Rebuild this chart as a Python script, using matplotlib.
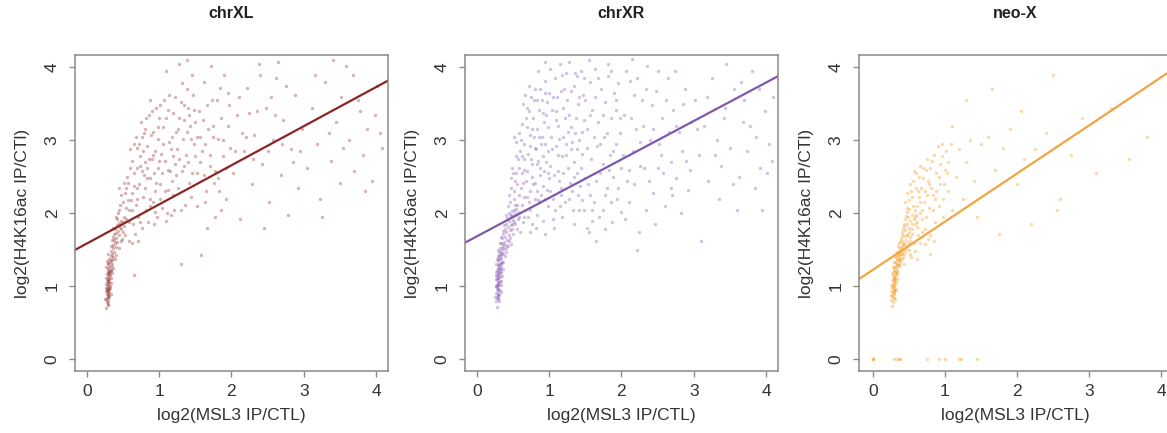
import numpy as np
import matplotlib
matplotlib.use("Agg")
import matplotlib.pyplot as plt

plt.rcParams['font.family'] = ['Liberation Sans', 'DejaVu Sans']

titles = ["chrXL", "chrXR", "neo-X"]
xlabel = "log2(MSL3 IP/CTL)"
ylabel = "log2(H4K16ac IP/CTl)"
ticks = [0, 1, 2, 3, 4]

# regression lines (intercept, slope)
xl_fit = (1.586, 0.536)
xr_fit = (1.684, 0.527)
neo_fit = (1.225, 0.660)

# chrXL points: dense stripe at low MSL3 + the broad cloud
xl_core = [(0.27,0.70),(0.29,0.74),(0.28,0.78),(0.30,0.80),(0.27,0.83),(0.29,0.85),(0.31,0.87),(0.28,0.89),
           (0.30,0.91),(0.27,0.93),(0.29,0.95),(0.31,0.96),(0.28,0.98),(0.30,1.00),(0.32,1.01),(0.27,1.03),
           (0.29,1.05),(0.31,1.06),(0.28,1.08),(0.30,1.10),(0.33,1.11),(0.29,1.13),(0.31,1.15),(0.28,1.17),
           (0.32,1.19),(0.30,1.21),(0.34,1.22),(0.29,1.24),(0.31,1.26),(0.33,1.28),(0.30,1.30),(0.35,1.31),
           (0.32,1.33),(0.34,1.36),(0.31,1.38),(0.36,1.40),(0.33,1.42),(0.35,1.45),(0.38,1.47),(0.34,1.49),
           (0.37,1.52),(0.40,1.54),(0.36,1.56),(0.39,1.59),(0.42,1.61),(0.38,1.63),(0.41,1.66),(0.37,1.68),
           (0.44,1.70),(0.40,1.73),(0.43,1.76),(0.39,1.79),(0.46,1.81),(0.42,1.84),(0.45,1.87),(0.48,1.90),
           (0.29,0.88),(0.30,0.96),(0.29,1.02),(0.31,0.92),(0.30,1.07),(0.28,0.94),(0.30,0.84),(0.32,1.16),
           (0.29,1.18),(0.31,1.20),(0.25,0.82),(0.33,0.90),(0.26,0.98),(0.34,1.04),(0.26,1.12),(0.35,1.18),
           (0.27,1.27),(0.37,1.25),(0.28,1.35),(0.39,1.38),(0.30,1.44),(0.41,1.43),(0.33,1.55),(0.44,1.52),
           (0.35,1.63),(0.47,1.62),(0.38,1.72),(0.50,1.74),(0.36,1.80),(0.52,1.83),(0.40,1.95),(0.55,1.92),
           (0.43,2.00),(0.58,1.88),(0.31,1.10),(0.32,0.98),(0.30,0.76),(0.33,1.22),(0.35,1.36),(0.29,1.32)]
xl_cloud = [(0.42,1.92),(0.45,2.05),(0.48,1.78),(0.50,2.15),(0.52,1.95),(0.47,2.25),(0.55,2.35),(0.53,1.70),
            (0.58,2.05),(0.56,2.50),(0.44,2.35),(0.59,1.62),(0.51,2.42),(0.57,2.18),(0.60,2.62),(0.49,1.65),
            (0.54,2.08),(0.62,2.28),(0.64,1.85),(0.66,2.55),(0.63,2.72),(0.68,2.12),(0.70,2.90),(0.67,1.72),
            (0.72,2.40),(0.74,2.65),(0.71,1.95),(0.76,3.05),(0.78,2.22),(0.65,2.95),(0.73,2.78),(0.79,2.52),
            (0.69,2.35),(0.77,1.80),(0.80,2.70),(0.75,3.25),(0.62,1.60),(0.82,2.05),(0.84,2.92),(0.86,3.35),
            (0.88,2.48),(0.90,2.75),(0.92,3.12),(0.85,1.88),(0.94,2.30),(0.96,3.45),(0.98,2.62),(0.83,2.62),
            (0.91,2.15),(0.97,1.95),(0.89,3.08),(0.99,3.02),(0.87,2.20),(0.93,2.55),(0.95,2.85),(1.00,3.30),
            (0.81,3.15),(1.02,2.40),(1.05,3.18),(1.08,2.72),(1.10,1.90),(1.12,3.42),(1.15,2.58),(1.18,3.05),
            (1.20,2.25),(1.22,3.60),(1.25,2.88),(1.28,3.30),(1.30,2.05),(1.32,3.78),(1.35,2.65),(1.38,3.12),
            (1.40,3.45),(1.42,2.42),(1.45,3.90),(1.48,2.95),(1.50,3.25),(1.04,2.08),(1.14,2.98),(1.24,2.52),
            (1.34,3.48),(1.44,2.22),(1.07,3.55),(1.17,1.98),(1.27,4.05),(1.37,2.80),(1.47,3.62),(1.03,2.82),
            (1.13,2.32),(1.33,3.02),(1.43,3.20),(1.26,3.15),(1.19,2.78),(1.09,3.95),(1.39,4.10),(1.30,1.30),
            (1.52,2.55),(1.55,3.40),(1.58,1.43),(1.60,2.85),(1.62,3.80),(1.65,2.30),(1.68,3.15),(1.70,2.65),
            (1.72,4.02),(1.75,3.05),(1.78,1.95),(1.80,3.55),(1.82,2.48),(1.85,3.30),(1.88,2.78),(1.90,3.90),
            (1.92,2.20),(1.95,3.65),(1.98,2.90),(1.56,3.05),(1.66,1.80),(1.76,2.42),(1.86,2.05),(1.96,3.20),
            (1.63,2.15),(1.73,3.55),(2.02,2.55),(2.08,3.35),(2.12,1.92),(2.18,2.85),(2.22,3.72),(2.28,2.40),
            (2.32,3.08),(2.38,4.05),(2.42,2.68),(2.48,3.45),(2.52,2.15),(2.58,3.00),(2.62,3.85),(2.68,2.52),
            (2.72,3.28),(2.78,1.98),(2.82,2.88),(2.88,3.62),(2.92,2.35),(2.98,3.15),(2.25,3.38),(2.45,1.80),
            (2.65,4.08),(2.85,2.70),(2.15,3.10),(2.55,3.60),(3.05,2.62),(3.12,3.45),(3.18,2.95),(3.25,1.95),
            (3.30,3.80),(3.38,2.72),(3.45,3.25),(3.50,2.42),(3.58,4.02),(3.62,3.00),(3.70,2.58),(3.75,3.55),
            (3.82,2.80),(3.88,3.15),(3.95,2.45),(4.02,3.75),(4.08,2.90),(3.22,2.20),(3.52,3.60),(3.85,2.30),
            (3.40,4.10),(3.68,3.90),(3.98,3.35),(0.65,1.15),
            (0.46,2.12),(0.50,1.88),(0.53,2.28),(0.57,2.42),(0.61,2.18),(0.63,2.05),(0.66,2.38),(0.69,2.62),
            (0.70,2.20),(0.72,2.95),(0.74,1.88),(0.76,2.58),(0.78,2.85),(0.80,2.35),(0.82,3.30),(0.84,2.48),
            (0.86,2.75),(0.88,2.10),(0.90,3.40),(0.92,2.80),(0.94,2.02),(0.96,2.42),(0.98,3.18),(1.00,2.72),
            (1.02,3.48),(1.04,2.55),(1.06,2.95),(1.08,2.30),(1.10,3.30),(1.12,2.60),(1.14,3.62),(1.16,2.88),
            (1.18,2.45),(1.20,3.38),(1.22,2.68),(1.24,3.12),(1.26,2.35),(1.28,2.75),(1.30,3.52),(1.32,2.58),
            (1.34,3.28),(1.36,2.12),(1.38,3.70),(1.40,2.70),(1.42,3.35),(1.44,3.02),(1.46,2.55),(1.48,3.42),
            (1.50,2.78),(1.53,3.05),(1.57,2.70),(1.61,3.28),(1.64,2.95),(1.67,3.48),(1.71,2.80),(1.74,3.20),
            (1.77,2.58),(1.81,3.02),(1.84,3.72),(1.89,3.00),(1.93,2.62),(1.97,3.48),(2.05,2.85),(2.10,3.60),
            (2.20,3.05),(2.30,2.75),(2.35,3.40),(2.40,3.90),(2.50,2.85),(2.60,3.35),(2.70,2.95),(2.75,3.75),
            (2.95,2.85),(3.15,3.90),(3.35,3.10),(3.55,2.90),(3.78,3.40),(4.05,3.10),(0.60,2.88),(0.68,3.05),
            (0.71,1.62),(0.79,3.10),(0.87,3.55),(0.93,1.85),(1.01,2.20),(1.11,2.00),(1.21,2.05),(1.52,2.10),
            (1.62,2.52),(1.83,2.30)]

# chrXR points
xr_core = [(0.28,0.72),(0.27,0.80),(0.30,0.82),(0.28,0.86),(0.31,0.88),(0.27,0.91),(0.29,0.93),(0.32,0.95),
           (0.28,0.97),(0.30,0.99),(0.27,1.01),(0.31,1.03),(0.29,1.05),(0.33,1.07),(0.28,1.09),(0.30,1.11),
           (0.32,1.13),(0.27,1.15),(0.29,1.17),(0.31,1.19),(0.34,1.21),(0.28,1.23),(0.30,1.25),(0.33,1.27),
           (0.29,1.29),(0.31,1.31),(0.35,1.33),(0.30,1.35),(0.32,1.37),(0.34,1.39),(0.29,1.41),(0.33,1.43),
           (0.36,1.45),(0.31,1.47),(0.34,1.49),(0.38,1.51),(0.32,1.53),(0.36,1.55),(0.40,1.57),(0.34,1.59),
           (0.38,1.61),(0.42,1.63),(0.35,1.66),(0.39,1.68),(0.44,1.70),(0.37,1.72),(0.41,1.75),(0.46,1.77),
           (0.39,1.79),(0.43,1.82),(0.48,1.84),(0.40,1.86),(0.45,1.89),(0.50,1.91),(0.42,1.93),(0.47,1.96),
           (0.52,1.98),(0.44,2.00),(0.49,2.03),(0.54,2.06),(0.29,0.84),(0.30,0.90),(0.29,0.96),(0.28,1.02),
           (0.30,1.06),(0.29,1.12),(0.31,1.16),(0.30,1.20),(0.32,1.24),(0.31,1.28),(0.33,1.32),(0.30,1.38),
           (0.32,1.44),(0.35,1.52),(0.37,1.58),(0.41,1.52),(0.44,1.62),(0.47,1.58),(0.50,1.72),(0.53,1.85),
           (0.56,1.78),(0.25,0.85),(0.33,0.92),(0.26,1.00),(0.34,1.02),(0.26,1.10),(0.35,1.14),(0.27,1.20),
           (0.36,1.24),(0.27,1.30),(0.37,1.33),(0.28,1.38),(0.39,1.42),(0.30,1.50),(0.41,1.47),(0.32,1.60),
           (0.43,1.55),(0.34,1.68),(0.46,1.66),(0.36,1.76),(0.49,1.78),(0.38,1.84),(0.52,1.88),(0.41,1.98),
           (0.55,2.00),(0.43,2.10),(0.58,1.95),(0.31,0.80),(0.32,1.08),(0.33,1.18),(0.34,1.30),(0.31,1.42),
           (0.29,0.88),(0.30,1.02),(0.31,1.24),(0.28,1.14),(0.35,1.46)]
xr_cloud = [(0.46,2.15),(0.48,2.35),(0.50,2.55),(0.52,2.20),(0.54,2.78),(0.56,2.40),(0.58,2.62),(0.47,2.48),
            (0.51,2.05),(0.55,2.98),(0.59,2.25),(0.53,2.45),(0.57,1.92),(0.60,2.85),(0.49,1.85),(0.58,3.10),
            (0.52,3.05),(0.56,2.12),(0.61,2.35),(0.63,3.22),(0.65,2.60),(0.67,2.05),(0.69,3.45),(0.71,2.82),
            (0.73,2.30),(0.75,3.60),(0.77,2.68),(0.79,3.05),(0.62,2.78),(0.64,1.88),(0.66,2.95),(0.68,2.45),
            (0.70,3.18),(0.72,2.15),(0.74,2.92),(0.76,2.50),(0.78,3.30),(0.80,2.20),(0.63,2.55),(0.67,3.62),
            (0.71,1.95),(0.75,2.75),(0.79,3.55),(0.65,2.22),(0.73,3.08),(0.77,1.85),(0.81,2.42),(0.83,3.15),
            (0.85,2.72),(0.87,3.70),(0.89,2.25),(0.91,3.38),(0.93,2.58),(0.95,2.95),(0.97,3.52),(0.99,2.10),
            (0.82,2.88),(0.84,1.98),(0.86,3.42),(0.88,2.62),(0.90,3.05),(0.92,2.38),(0.94,3.82),(0.96,2.70),
            (0.98,3.18),(1.00,2.48),(0.85,2.18),(0.89,2.95),(0.93,3.25),(0.97,2.32),(0.91,1.90),(0.87,2.52),
            (0.95,3.65),(0.99,2.85),(0.83,3.55),(1.02,2.65),(1.04,3.42),(1.06,2.20),(1.08,3.85),(1.10,2.92),
            (1.12,3.20),(1.14,2.45),(1.16,3.68),(1.18,2.78),(1.20,3.05),(1.22,2.15),(1.24,3.92),(1.26,2.62),
            (1.28,3.35),(1.30,2.88),(1.32,2.30),(1.34,3.75),(1.36,3.10),(1.38,2.55),(1.40,3.50),(1.42,2.05),
            (1.44,3.95),(1.46,2.82),(1.48,3.28),(1.50,2.48),(1.03,3.05),(1.07,2.52),(1.11,3.60),(1.15,2.10),
            (1.19,3.45),(1.23,2.95),(1.27,4.08),(1.31,3.18),(1.35,2.70),(1.39,3.88),(1.43,2.38),(1.47,3.62),
            (1.05,1.92),(1.13,2.80),(1.21,3.70),(1.29,2.42),(1.37,3.30),(1.45,2.18),(1.09,3.28),(1.17,2.35),
            (1.25,3.55),(1.33,2.05),(1.41,3.00),(1.49,3.85),(1.52,1.80),(1.01,3.98),(1.52,3.15),(1.54,2.40),
            (1.56,3.80),(1.58,2.75),(1.60,3.42),(1.62,2.15),(1.64,3.98),(1.66,2.92),(1.68,3.25),(1.70,2.55),
            (1.72,3.70),(1.74,2.05),(1.76,3.05),(1.78,3.52),(1.80,2.35),(1.82,3.88),(1.84,2.80),(1.86,3.30),
            (1.88,2.50),(1.90,3.65),(1.92,2.95),(1.94,2.20),(1.96,3.78),(1.98,3.10),(2.00,2.62),(1.57,2.25),
            (1.63,3.60),(1.69,1.95),(1.75,2.68),(1.81,4.05),(1.87,1.88),(1.93,3.42),(1.99,2.02),(1.55,1.75),
            (1.65,1.62),(1.85,2.15),(2.04,3.35),(2.08,2.45),(2.12,3.82),(2.16,2.85),(2.20,3.15),(2.24,1.75),
            (2.28,3.55),(2.32,2.62),(2.36,4.02),(2.40,3.00),(2.44,2.28),(2.48,3.68),(2.52,2.95),(2.56,3.30),
            (2.60,2.10),(2.64,3.85),(2.68,2.70),(2.72,3.42),(2.76,2.48),(2.80,3.12),(2.84,2.85),(2.88,3.70),
            (2.92,2.32),(2.96,3.25),(2.10,2.15),(2.26,2.98),(2.42,3.48),(2.58,2.55),(2.74,3.95),(2.90,2.72),
            (2.18,3.62),(2.34,2.05),(2.50,2.62),(2.66,3.12),(2.82,2.00),(2.22,1.50),(2.46,1.85),(2.70,2.25),
            (3.02,3.55),(3.08,2.80),(3.14,3.20),(3.20,2.45),(3.26,3.85),(3.32,3.00),(3.38,2.65),(3.44,3.45),
            (3.50,2.90),(3.56,3.70),(3.62,2.50),(3.68,3.25),(3.74,2.85),(3.80,3.95),(3.86,3.05),(3.92,2.62),
            (3.98,3.40),(4.04,2.95),(4.10,3.60),(3.10,1.62),(3.35,2.20),(3.60,2.05),(3.85,2.35),(3.95,2.05),
            (4.08,2.72),(3.45,4.05),(3.70,3.55),
            (0.45,2.25),(0.47,1.98),(0.49,2.62),(0.51,2.30),(0.53,2.12),(0.55,2.55),(0.57,2.75),(0.59,2.02),
            (0.61,3.00),(0.62,2.12),(0.64,2.42),(0.66,2.75),(0.68,3.30),(0.69,2.22),(0.70,2.58),(0.72,3.40),
            (0.74,2.05),(0.76,3.15),(0.78,2.40),(0.80,2.90),(0.81,3.70),(0.83,2.30),(0.84,2.68),(0.86,3.05),
            (0.88,2.15),(0.90,3.55),(0.92,2.78),(0.94,2.20),(0.96,3.35),(0.98,2.55),(1.00,3.65),(1.02,2.30),
            (1.04,2.88),(1.06,3.60),(1.08,2.05),(1.10,3.40),(1.12,2.58),(1.14,3.02),(1.16,2.25),(1.18,3.90),
            (1.20,2.55),(1.22,3.30),(1.24,2.80),(1.26,3.12),(1.28,2.20),(1.30,3.68),(1.32,2.98),(1.34,2.50),
            (1.36,3.92),(1.38,2.88),(1.40,2.25),(1.42,3.60),(1.44,2.62),(1.46,3.12),(1.48,2.05),(1.50,3.55),
            (1.53,2.90),(1.56,3.35),(1.59,2.05),(1.62,3.05),(1.65,2.45),(1.68,3.85),(1.71,2.95),(1.74,3.35),
            (1.77,2.25),(1.80,3.10),(1.83,2.60),(1.86,3.95),(1.89,2.85),(1.92,3.55),(1.95,2.35),(1.98,3.30),
            (2.02,2.80),(2.06,3.95),(2.10,2.60),(2.14,3.30),(2.18,2.40),(2.22,3.85),(2.26,2.65),(2.30,3.20),
            (2.34,3.70),(2.38,2.45),(2.44,3.15),(2.50,3.95),(2.55,2.80),(2.62,3.55),(2.68,2.35),(2.75,3.20),
            (2.85,3.50),(2.95,2.60),(3.05,3.15),(3.18,3.60),(3.30,2.80),(3.42,3.30),(3.55,2.40),(3.65,3.80),
            (3.78,3.20),(3.90,3.70),(4.02,2.55),(0.60,1.75),(0.66,1.95),(0.74,1.75),(0.82,1.80),(0.95,1.72),
            (1.07,1.80),(1.18,1.95),(1.35,1.85),(1.60,1.90),(1.78,1.78),(2.05,1.92),(0.64,3.50),(0.72,3.75),
            (0.85,3.95),(0.95,4.08),(1.15,4.05),(1.55,4.10),(2.15,4.12)]

# neo-X points
neo_core = [(0.27,0.73),(0.28,0.78),(0.26,0.81),(0.29,0.84),(0.27,0.87),(0.30,0.89),(0.28,0.91),(0.26,0.93),
            (0.29,0.95),(0.31,0.97),(0.27,0.99),(0.30,1.01),(0.28,1.03),(0.32,1.05),(0.29,1.07),(0.27,1.09),
            (0.31,1.11),(0.30,1.13),(0.28,1.15),(0.33,1.17),(0.31,1.19),(0.29,1.21),(0.34,1.23),(0.32,1.25),
            (0.30,1.27),(0.35,1.29),(0.33,1.31),(0.31,1.33),(0.36,1.35),(0.34,1.37),(0.38,1.39),(0.32,1.41),
            (0.36,1.43),(0.40,1.45),(0.34,1.47),(0.38,1.49),(0.42,1.51),(0.36,1.53),(0.40,1.55),(0.44,1.57),
            (0.37,1.59),(0.41,1.62),(0.46,1.64),(0.39,1.66),(0.43,1.69),(0.48,1.71),(0.41,1.74),(0.45,1.77),
            (0.50,1.80),(0.43,1.83),(0.47,1.86),(0.52,1.89),(0.45,1.92),(0.49,1.95),(0.54,1.98),(0.47,2.02),
            (0.51,2.06),(0.56,2.10),(0.28,0.86),(0.29,0.92),(0.28,0.98),(0.30,1.04),(0.29,1.10),(0.31,1.16),
            (0.30,1.22),(0.32,1.28),(0.33,1.36),(0.35,1.42),(0.37,1.46),(0.39,1.52),(0.42,1.58),(0.38,1.35),
            (0.42,1.40),(0.45,1.48),(0.48,1.55),(0.52,1.62),(0.55,1.72),(0.50,1.50),(0.44,1.30),(0.58,1.85),
            (0.53,1.40),(0.29,1.00),(0.30,0.94),(0.31,1.08),
            (0.25,0.88),(0.32,0.95),(0.26,1.02),(0.33,1.10),(0.27,1.18),(0.34,1.20),(0.28,1.26),(0.36,1.28),
            (0.29,1.34),(0.38,1.31),(0.31,1.40),(0.40,1.38),(0.33,1.46),(0.43,1.44),(0.35,1.55),(0.46,1.52),
            (0.38,1.62),(0.49,1.60),(0.40,1.70),(0.52,1.68),(0.42,1.78),(0.55,1.78),(0.44,1.86),(0.57,1.92),
            (0.46,1.96),(0.60,1.98),(0.48,2.08),(0.62,2.10),(0.50,2.18),(0.64,2.22),(0.31,0.82),(0.30,1.12),
            (0.32,1.18),(0.34,1.30),(0.36,1.38),(0.39,1.44),(0.41,1.49),(0.44,1.60),(0.47,1.70),(0.51,1.75),
            (0.54,1.86),(0.58,1.95),(0.61,1.82),(0.65,2.00),(0.68,1.92),(0.57,1.60),(0.52,1.45),(0.63,1.70)]
neo_cloud = [(0.45,2.15),(0.48,2.28),(0.52,2.40),(0.55,2.22),(0.58,2.05),(0.60,2.35),(0.62,1.88),(0.64,2.50),
             (0.66,2.15),(0.68,1.75),(0.70,2.62),(0.72,2.30),(0.74,1.95),(0.76,2.45),(0.78,2.08),(0.80,1.70),
             (0.82,2.72),(0.84,2.25),(0.86,1.88),(0.88,2.55),(0.90,2.92),(0.92,2.10),(0.94,2.40),(0.96,2.78),
             (0.98,1.95),(1.00,2.60),(1.02,2.85),(1.05,2.30),(1.08,2.95),(1.10,2.05),(0.57,2.58),(0.63,2.30),
             (0.69,2.05),(0.75,2.75),(0.81,2.35),(0.87,2.20),(0.93,2.68),(0.99,2.40),(0.65,1.60),(0.73,1.58),
             (0.79,1.45),(0.85,1.62),(1.15,2.50),(1.20,2.88),(1.25,2.20),(1.30,2.70),(1.35,3.00),(1.40,2.45),
             (1.50,2.95),(1.60,3.05),(1.70,2.60),(1.80,2.90),(1.90,3.15),(2.00,2.40),(2.10,2.75),(2.25,2.88),
             (2.40,3.10),(2.60,2.20),(2.75,2.80),(2.90,3.30),(3.10,2.55),(3.30,3.45),(3.55,2.75),(3.80,3.05),
             (1.45,1.95),(1.75,1.72),(2.20,1.85),(2.55,2.05),(1.10,3.20),(1.30,3.55),(1.65,3.70),(2.05,3.40),
             (2.50,3.90),(0.58,1.48),(0.62,1.38),(0.53,2.30),(0.67,2.35),(0.56,2.45),(0.70,2.48),(0.60,2.55),
             (0.74,2.60),(0.71,2.15),(0.75,2.25),(0.78,2.40),(0.83,2.05),(0.88,2.30),(0.92,2.50),(0.97,2.20),
             (1.03,2.55),(0.80,2.62),(0.85,2.80),(0.96,2.95),(1.04,2.70),(0.66,2.65),(0.72,1.78),(0.77,1.65)]
neo_zero = [(0.0,0.0),(0.0,0.0),(0.0,0.0),(0.30,0.0),(0.33,0.0),(0.36,0.0),(0.38,0.0),(0.75,0.0),
            (0.92,0.0),(1.0,0.0),(1.2,0.0),(1.22,0.0),(1.45,0.0)]

panels = [
    (titles[0], xl_core + xl_cloud, "#8b1a1a", 0.33, "#8b2525", xl_fit, (-0.162, 4.166)),
    (titles[1], xr_core + xr_cloud, "#7a4aa8", 0.33, "#7e58ad", xr_fit, (-0.162, 4.166)),
    (titles[2], neo_core + neo_cloud + neo_zero, "#f39a1e", 0.36, "#f2a541", neo_fit, (-0.19, 4.15)),
]

fig = plt.figure(figsize=(11.67, 4.33), dpi=100)
lefts = [75, 465, 859]
W, H = 1167.0, 433.0

for left, (title, pts, col, alpha, lcol, fit, xlim) in zip(lefts, panels):
    ax = fig.add_axes([left / W, (H - 371) / H, 313 / W, 316 / H])
    pts = np.array(pts)
    ax.scatter(pts[:, 0], pts[:, 1], s=6, color=col, alpha=alpha, linewidths=0)
    ax.axline((0, fit[0]), slope=fit[1], color=lcol, lw=1.6)
    ax.set_xlim(*xlim)
    ax.set_ylim(-0.16, 4.17)
    ax.set_xticks(ticks)
    ax.set_yticks(ticks)
    for sp in ax.spines.values():
        sp.set_color("#8a8a8a")
        sp.set_linewidth(1.1)
    ax.tick_params(direction="out", length=4, width=1, color="#8a8a8a",
                   labelsize=12.5, labelcolor="#333333")
    ax.tick_params(axis="x", pad=5)
    ax.tick_params(axis="y", pad=7, labelrotation=90)
    for lab in ax.get_yticklabels():
        lab.set_va("center")
    ax.set_xlabel(xlabel, fontsize=12.5, color="#333333", va="center")
    ax.xaxis.set_label_coords(0.5, -0.142)
    ax.set_ylabel(ylabel, fontsize=12.5, color="#333333", va="center")
    ax.yaxis.set_label_coords(-0.169, 0.5)
    ax.text(0.5, 1.13, title, transform=ax.transAxes, ha="center", va="center",
            fontsize=11.5, fontweight="bold", color="#222222")

fig.savefig("out.png", dpi=100)
